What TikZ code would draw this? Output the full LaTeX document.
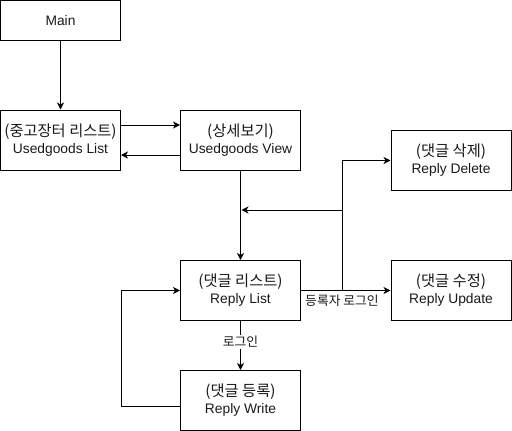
\documentclass[tikz,border=0pt]{standalone}
\usepackage{fontspec}
\setmainfont{Liberation Sans}
\newfontfamily\kr{Noto Sans CJK KR}
\usetikzlibrary{arrows.meta,calc}
\newcommand{\krl}[1]{{\kr\fontsize{15.3}{17}\selectfont #1}}
\tikzset{
  box/.style={draw, line width=1pt, rectangle, minimum width=120pt, minimum height=60pt, align=center, inner sep=0pt, font=\fontsize{13.8}{17}\selectfont, text=black!90},
  arr/.style={draw, line width=1pt, -{Stealth[length=7pt,width=7pt,inset=2pt]}},
  ln/.style={draw, line width=1pt},
  lbl/.style={font=\kr\fontsize{12.8}{14}\selectfont, inner sep=1pt, text=black!90}
}
\begin{document}
\begin{tikzpicture}[x=1pt,y=-1pt]
\useasboundingbox (0,0) rectangle (512,431);
\node[box, minimum height=40pt] (main) at (60.5,20.5) {Main};
\node[box] (ulist) at (60.5,140) {\krl{(중고장터 리스트)}\\Usedgoods List};
\node[box] (uview) at (240.5,140) {\krl{(상세보기)}\\Usedgoods View};
\node[box] (rdel) at (451,160.5) {\krl{(댓글 삭제)}\\Reply Delete};
\node[box] (rlist) at (240.5,290.5) {\krl{(댓글 리스트)}\\Reply List};
\node[box] (rupd) at (451,290.5) {\krl{(댓글 수정)}\\Reply Update};
\node[box] (rwrite) at (240.5,400.5) {\krl{(댓글 등록)}\\Reply Write};

\coordinate (j) at (342,290.5);
\coordinate (k) at (342,210);
\coordinate (m) at (241.5,210);
\coordinate (lp) at (121.5,290.5);

\draw[arr] (main) -- (ulist);
\draw[arr] ([yshift=15pt]ulist.east) -- ([yshift=15pt]uview.west);
\draw[arr] ([yshift=-15pt]uview.west) -- ([yshift=-15pt]ulist.east);
\draw[arr] (uview) -- (rlist);
\draw[arr] (rlist) -- (rupd);
\node[lbl] (l1) at (342,300.5) {등록자 로그인};
\draw[arr] (j) |- (rdel.west);
\draw[arr] (k) -- (m);
\draw[arr] (rlist) -- node[lbl, fill=white, pos=0.43] (l2) {로그인} (rwrite);
\draw[arr] ([yshift=-6pt]rwrite.west) -| (lp) -- (rlist.west);
\end{tikzpicture}
\end{document}
